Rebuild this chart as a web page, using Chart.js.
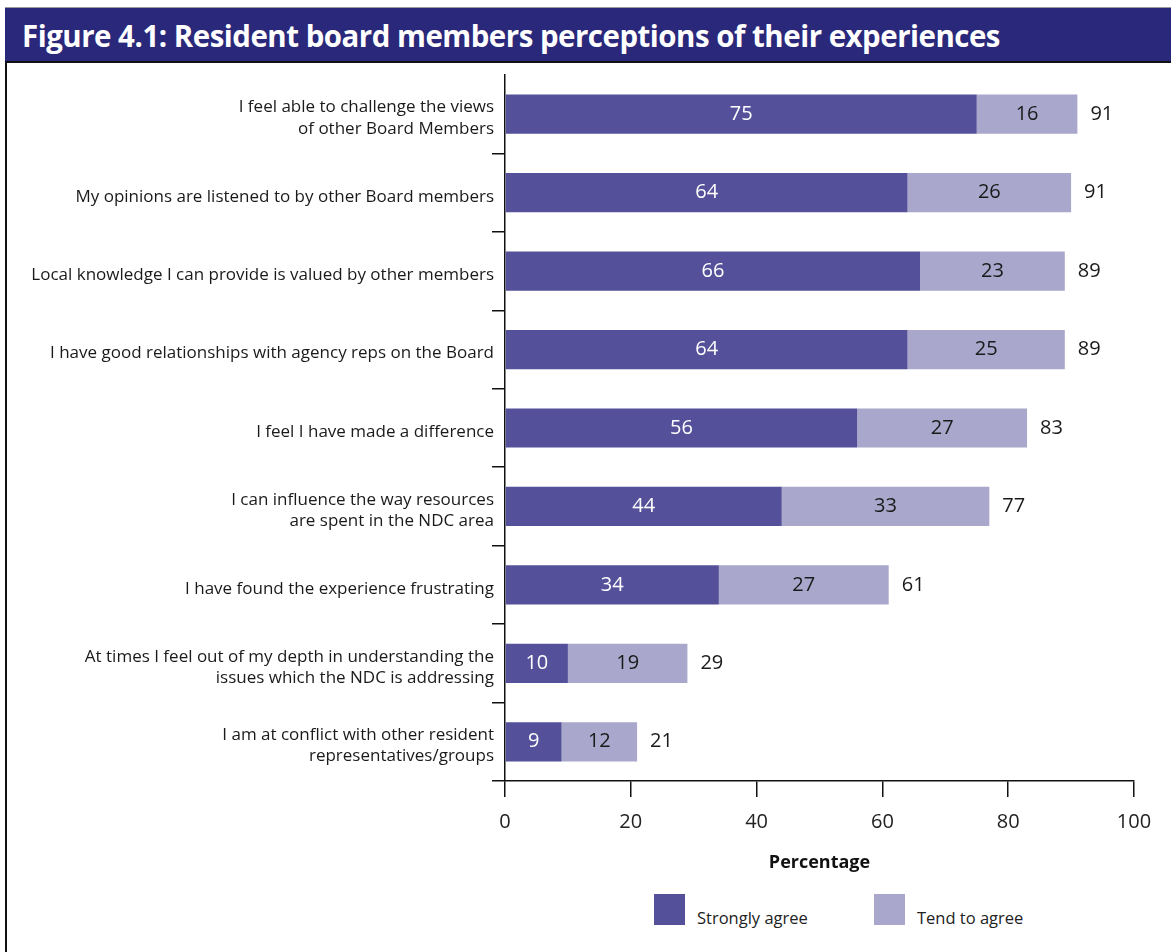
<!DOCTYPE html>
<html>
<head>
<meta charset="utf-8">
<script src="https://cdn.jsdelivr.net/npm/chart.js@4"></script>
<style>
  body { margin: 0; background: #fff; width: 1171px; height: 952px; overflow: hidden; position: relative; font-family: "Open Sans", sans-serif; }
  #titlebar { position: absolute; left: 5px; top: 7px; width: 1166px; height: 53px; background: #2a287a;
    border-top: 1px solid #9a9a9a; border-bottom: 2px solid #111; overflow: hidden; }
  #title { position: absolute; left: 17px; top: 6px; color: #fff; font-weight: bold; font-size: 31px; white-space: nowrap;
    transform-origin: left center; letter-spacing: -0.5px; }
  #leftline { position: absolute; left: 5px; top: 62px; width: 2px; height: 890px; background: #111; }
  #wrap { position: absolute; left: 7px; top: 62px; width: 1164px; height: 818px; }
  #legend { position: absolute; top: 894px; left: 0; width: 1171px; height: 40px; }
  .item { position: absolute; top: 0; height: 31px; }
  .box { position: absolute; left: 0; top: 0; width: 31px; height: 31px; }
  .txt { position: absolute; left: 43px; top: 12px; font-size: 16.5px; color: #222; white-space: nowrap; }
</style>
</head>
<body>
<div id="titlebar"><div id="title">Figure 4.1: Resident board members perceptions of their experiences</div></div>
<div id="leftline"></div>
<div id="wrap"><canvas id="chart"></canvas></div>
<div id="legend"></div>
<script>
// données
const categories = [
  ['I feel able to challenge the views', 'of other Board Members'],
  'My opinions are listened to by other Board members',
  'Local knowledge I can provide is valued by other members',
  'I have good relationships with agency reps on the Board',
  'I feel I have made a difference',
  ['I can influence the way resources', 'are spent in the NDC area'],
  'I have found the experience frustrating',
  ['At times I feel out of my depth in understanding the', 'issues which the NDC is addressing'],
  ['I am at conflict with other resident', 'representatives/groups']
];
const stronglyAgree = [75, 64, 66, 64, 56, 44, 34, 10, 9];
const tendToAgree = [16, 26, 23, 25, 27, 33, 27, 19, 12];
const totals = [91, 91, 89, 89, 83, 77, 61, 29, 21];
const xTicks = [0, 20, 40, 60, 80, 100];

const dark = '#54519a';
const light = '#a9a7cb';

// titre ajusté à la largeur
const title = document.getElementById('title');
title.style.transform = 'scaleX(' + (978 / title.getBoundingClientRect().width) + ')';

// étiquettes des barres
const barLabels = {
  id: 'barLabels',
  afterDatasetsDraw(chart) {
    const ctx = chart.ctx;
    ctx.save();
    ctx.font = '20px "Open Sans"';
    ctx.textBaseline = 'middle';
    chart.data.datasets.forEach((ds, di) => {
      const meta = chart.getDatasetMeta(di);
      meta.data.forEach((bar, i) => {
        ctx.fillStyle = di === 0 ? '#fff' : '#1a1a1a';
        ctx.textAlign = 'center';
        ctx.fillText(ds.data[i], (bar.x + bar.base) / 2, bar.y);
        if (di === chart.data.datasets.length - 1) {
          ctx.fillStyle = '#1a1a1a';
          ctx.textAlign = 'left';
          ctx.fillText(totals[i], bar.x + 13, bar.y);
        }
      });
    });
    ctx.restore();
  }
};

const chart = new Chart(document.getElementById('chart'), {
  type: 'bar',
  data: {
    labels: categories,
    datasets: [
      { label: 'Strongly agree', data: stronglyAgree, backgroundColor: dark },
      { label: 'Tend to agree', data: tendToAgree, backgroundColor: light }
    ]
  },
  options: {
    indexAxis: 'y',
    responsive: true,
    maintainAspectRatio: false,
    animation: false,
    barPercentage: 0.5,
    categoryPercentage: 1,
    layout: { padding: { top: 13, right: 37, left: 0, bottom: 0 } },
    plugins: { legend: { display: false }, tooltip: { enabled: false } },
    scales: {
      x: {
        stacked: true,
        min: 0, max: 100,
        afterBuildTicks: s => { s.ticks = xTicks.map(v => ({ value: v })); },
        afterFit: s => { s.height = 99; },
        grid: { drawOnChartArea: false, tickLength: 16, color: '#111', lineWidth: 1.5 },
        border: { color: '#111', width: 1.5 },
        ticks: { color: '#222', font: { size: 20, family: 'Open Sans' }, padding: 13 },
        title: { display: true, text: 'Percentage', color: '#111', font: { size: 18, weight: 'bold', family: 'Open Sans' }, padding: { top: 0, bottom: 6 } }
      },
      y: {
        stacked: true,
        afterFit: s => { s.width = 498; s.paddingTop = 0; s.paddingBottom = 0; },
        grid: {
          offset: true, drawOnChartArea: false, tickLength: 13, lineWidth: 1.5,
          color: c => c.index === 0 ? 'rgba(0,0,0,0)' : '#111'
        },
        border: { color: '#111', width: 1.5 },
        ticks: { color: '#1a1a1a', font: { size: 17, family: 'Open Sans', lineHeight: 1.25 }, padding: -2, labelOffset: 4, autoSkip: false }
      }
    }
  },
  plugins: [barLabels]
});

// légende
const legend = document.getElementById('legend');
[654, 874].forEach((left, i) => {
  const ds = chart.data.datasets[i];
  const item = document.createElement('div');
  item.className = 'item';
  item.style.left = left + 'px';
  item.innerHTML = '<div class="box" style="background:' + ds.backgroundColor + '"></div><div class="txt">' + ds.label + '</div>';
  legend.appendChild(item);
});
</script>
</body>
</html>
